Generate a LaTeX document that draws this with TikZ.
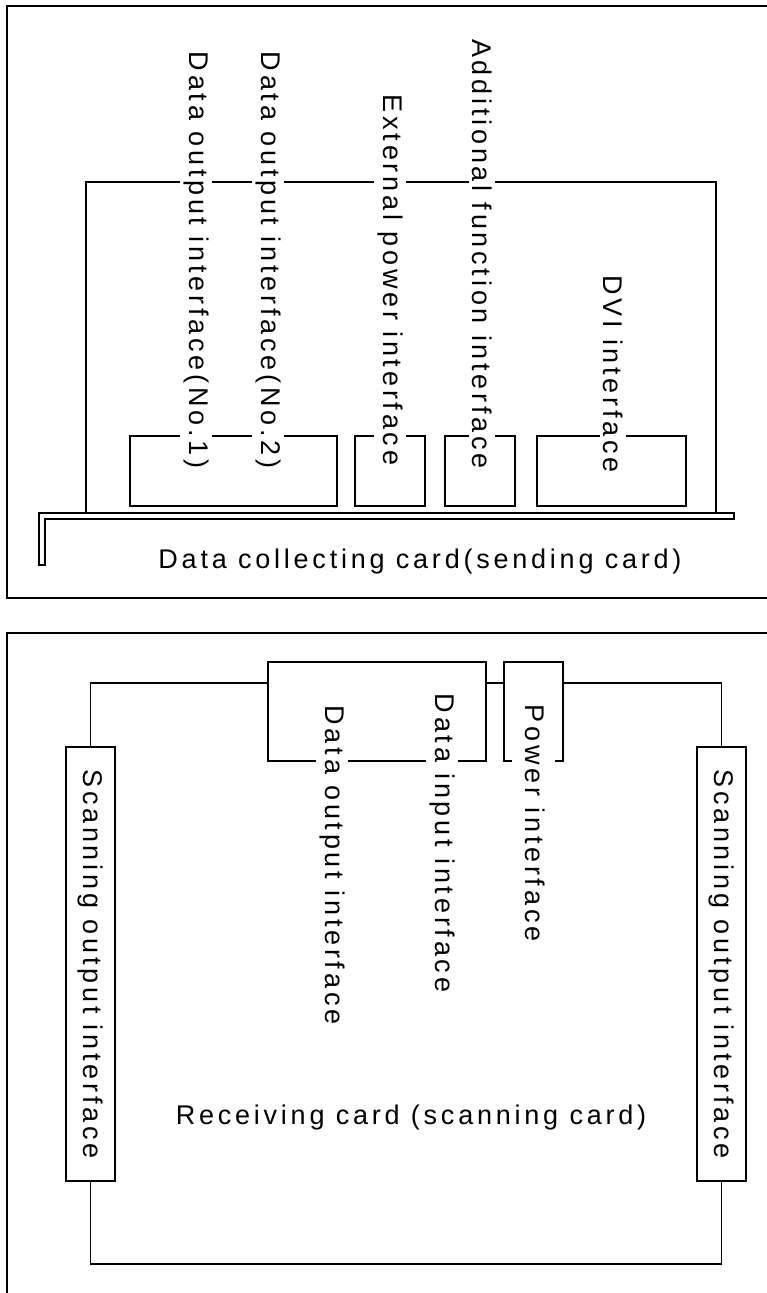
\documentclass[tikz,border=0pt]{standalone}
\usepackage{fontspec}
\newfontfamily\lblfont{Liberation Sans}[LetterSpace=14]
\begin{document}
\begin{tikzpicture}[x=1pt, y=-1pt, line width=1.6pt,
  frame/.style={line width=2.2pt},
  lbl/.style={font=\lblfont\fontsize{27}{32}\selectfont, inner xsep=3pt, inner ysep=3pt},
  wlbl/.style={lbl, fill=white, rotate=-90}]
\useasboundingbox (0,0) rectangle (767,1293);
\clip (0,0) rectangle (767,1293);
% outer frames
\draw[frame] (790,6) -| (7,598) -- (790,598);
\draw[frame] (790,633) -| (7,1310);
% ---------- sending card ----------
\draw (86,513) |- (716,182) -- (716,513);
\draw (39,513) -- (734,513) -- (734,519) -- (45,519) -- (45,565) -- (39,565) -- cycle;
\draw (130,436) rectangle (337,506);
\draw (355,436) rectangle (425,506);
\draw (445,436) rectangle (515,506);
\draw (537,436) rectangle (686,506);
\node[wlbl] (d1) at (196,260) {Data output interface(No.1)};
\node[wlbl] (d2) at (268,260) {Data output interface(No.2)};
\node[wlbl] (ext) at (390,280) {External power interface};
\node[wlbl] (add) at (482,254) {Additional function interface};
\node[wlbl] (dvi) at (613,374) {DVI interface};
\node[lbl] (dc) at (420,562) {Data collecting card(sending card)};
% ---------- receiving card ----------
\node[draw, lbl, rotate=-90, minimum width=434pt, minimum height=49pt, inner sep=0pt] (sl) at (90.5,964) {Scanning output interface};
\node[draw, lbl, rotate=-90, minimum width=434pt, minimum height=49pt, inner sep=0pt] (sr) at (721.5,964) {Scanning output interface};
\coordinate (dbl) at (268,683);
\coordinate (dbr) at (486,683);
\coordinate (pbl) at (504,683);
\coordinate (pbr) at (563,683);
\draw (sl.west) |- (dbl);
\draw (dbr) -- (pbl);
\draw (pbr) -| (sr.west);
\draw (sl.east) -- ++(0,82) -| (sr.east);
\draw (268,662) rectangle (486,761);
\draw (512,761) -- (504,761) -- (504,662) -- (563,662) -- (563,761) -- (555,761);
\node[wlbl] (dout) at (332,865) {Data output interface};
\node[wlbl] (din) at (442,843) {Data input interface};
\node[wlbl] (pw) at (535,823) {Power interface};
\node[lbl] (rc) at (411,1118) {Receiving card (scanning card)};
\end{tikzpicture}
\end{document}
